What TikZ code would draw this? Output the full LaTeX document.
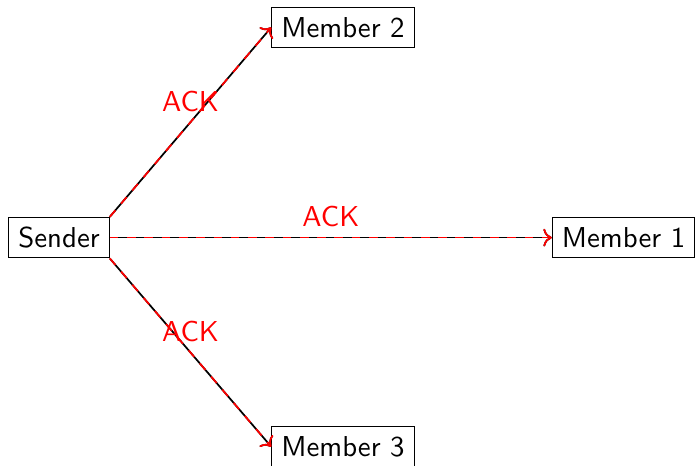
\documentclass[tikz,border=0pt]{standalone}
\usepackage{tikz}
\usetikzlibrary{arrows.meta}

\begin{document}
\begin{tikzpicture}[
  x=1pt, y=1pt,
  font=\sffamily,
  member/.style={draw},
  msg/.style={->, semithick},
  ack/.style={->, semithick, red, dashed},
  >=To
]
  \useasboundingbox (-20.5,-79) rectangle (220.8,82.5);

  % Nodes
  \node[member] (sender) at (0,0) {Sender};
  \node[member] (m1) at (196,0) {Member 1};
  \node[member] (m2) at (98.6,73) {Member 2};
  \node[member] (m3) at (98.6,-72.6) {Member 3};

  % Messages out
  \draw[msg] (sender.north east) -- (m2.west);
  \draw[msg] (sender.east) -- (m1.west);
  \draw[msg] (sender.south east) -- (m3.west);

  % Acknowledgements
  \draw[ack] (sender.north east) -- node[above] {ACK} (m2.west);
  \draw[ack] (sender.east) -- node[above] {ACK} (m1.west);
  \draw[ack] (sender.south east) -- node[above] {ACK} (m3.west);
\end{tikzpicture}
\end{document}
